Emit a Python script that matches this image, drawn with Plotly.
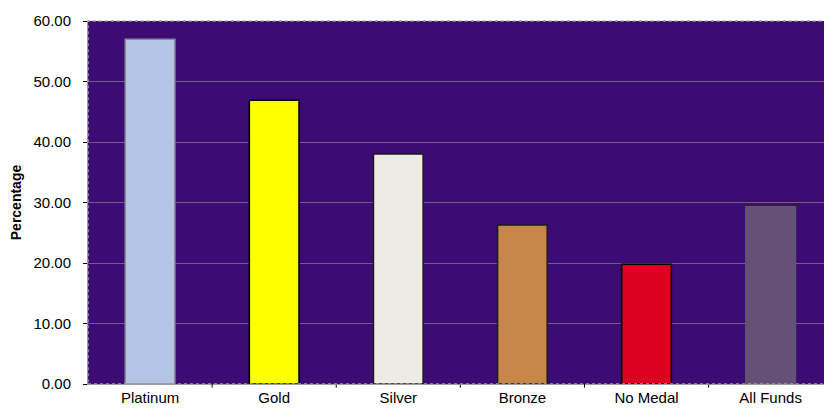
import plotly.graph_objects as go

categories = ["Platinum", "Gold", "Silver", "Bronze", "No Medal", "All Funds"]
values = [57.0, 46.9, 38.0, 26.3, 19.8, 29.3]
bar_colors = ["#B4C4E4", "#FFFF00", "#EEEAE4", "#C8864A", "#DE0020", "#66507A"]
line_colors = ["#8A8A9A", "#000000", "#1A1A1A", "#1A1A1A", "#000000", "#5A5A6A"]
y_ticks = [0, 10, 20, 30, 40, 50, 60]

fig = go.Figure()
fig.add_trace(go.Bar(
    x=list(range(len(categories))),
    y=values,
    width=0.4,
    marker=dict(color=bar_colors, line=dict(color=line_colors, width=1.5)),
    showlegend=False,
))

fig.update_layout(
    width=824, height=409,
    margin=dict(l=88, r=0, t=21, b=25),
    paper_bgcolor="white",
    plot_bgcolor="#3C0B73",
    font=dict(family="Liberation Sans, Arial", size=15, color="black"),
    bargap=0.6,
)
fig.update_xaxes(
    tickmode="array",
    tickvals=list(range(len(categories))),
    ticktext=categories,
    range=[-0.5, 5.43],
    showgrid=False,
    zeroline=False,
    showline=True, linecolor="#999999", linewidth=1,
    ticks="", tickfont=dict(size=15),
)
fig.update_yaxes(
    range=[0, 60],
    tickmode="array",
    tickvals=y_ticks,
    ticktext=[f"{v:.2f}" for v in y_ticks],
    showgrid=True, gridcolor="#6E5E88", gridwidth=1,
    zeroline=False,
    showline=True, linecolor="#999999", linewidth=1,
    ticks="outside", ticklen=4, tickcolor="black",
    ticklabelstandoff=9,
    tickfont=dict(size=15),
    title=dict(text="<b>Percentage</b>", font=dict(size=14), standoff=8),
)
# boundary tick marks between categories on the x axis
for b in [0.5, 1.5, 2.5, 3.5, 4.5]:
    fig.add_shape(type="line", xref="x", yref="paper", x0=b, x1=b, y0=0, y1=-0.01,
                  line=dict(color="black", width=1))
fig.add_shape(type="rect", xref="paper", yref="paper", x0=0, x1=1.01, y0=0, y1=1,
              line=dict(color="#A0A0A0", width=1.5, dash="dot"))

fig.write_html("out.html")
